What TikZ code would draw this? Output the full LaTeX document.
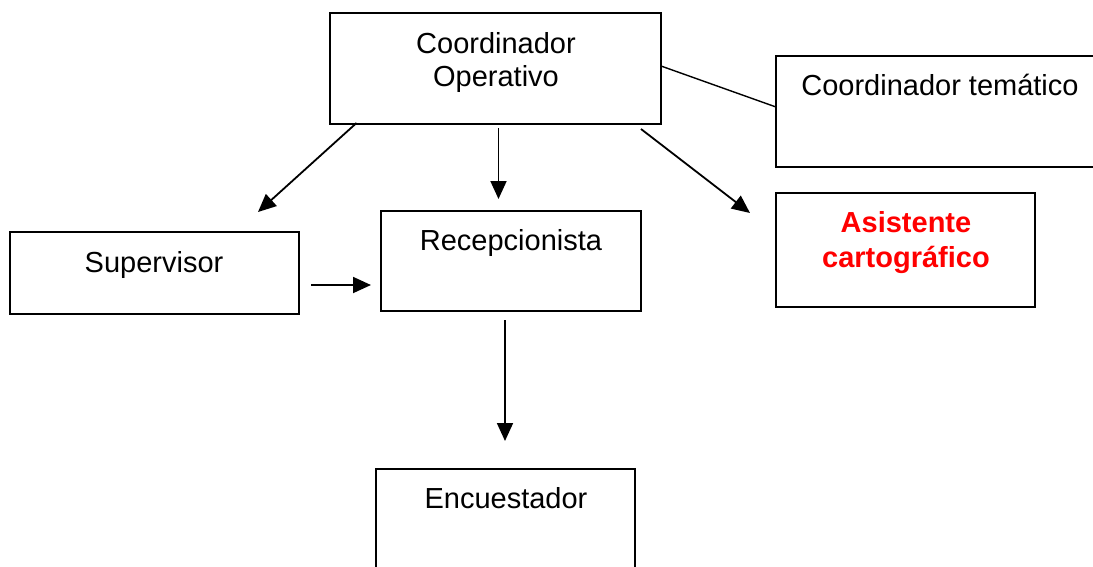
\documentclass[tikz,border=0pt]{standalone}
\usepackage{fontspec}
\setmainfont{Liberation Sans}
\usetikzlibrary{arrows.meta}
\begin{document}
\begin{tikzpicture}[x=1pt,y=-1pt,
  box/.style={draw, line width=1.6pt, rectangle, inner sep=0pt},
  lbl/.style={anchor=base, inner sep=0pt, font=\fontsize{29}{33}\selectfont},
  redlbl/.style={lbl, text=red, font=\fontsize{29}{35}\selectfont\bfseries},
  conn/.style={line width=1.8pt},
  arr/.style={conn, -{Triangle[length=18pt,width=16pt]}}]
\useasboundingbox (0,0) rectangle (1093,566);
\clip (0,0) rectangle (1093,566);
% boxes
\node[box, minimum width=331pt, minimum height=111pt] (co) at (495.5,68.5) {};
\node[box, minimum width=330pt, minimum height=111pt] (ct) at (941,111.5) {};
\node[box, minimum width=259pt, minimum height=114pt] (as) at (905.5,250) {};
\node[box, minimum width=289pt, minimum height=82pt] (sup) at (154.5,273) {};
\node[box, minimum width=260pt, minimum height=100pt] (rec) at (511,261) {};
\node[box, minimum width=259pt, minimum height=131pt] (enc) at (505.5,534.5) {};
% labels
\node[lbl] (coT1) at (496,53) {Coordinador};
\node[lbl] (coT2) at (496,86) {Operativo};
\node[lbl] (ctT) at (940,95) {Coordinador temático};
\node[redlbl] (asT1) at (906,232) {Asistente};
\node[redlbl] (asT2) at (906,267) {cartográfico};
\node[lbl] (supT) at (154,272) {Supervisor};
\node[lbl] (recT) at (511,250) {Recepcionista};
\node[lbl] (encT) at (506,508) {Encuestador};
% connector end points
\coordinate (a1s) at (356.5,123);
\coordinate (a1e) at (258,212);
\coordinate (a2s) at (498.5,128);
\coordinate (a2e) at (498.5,199);
\coordinate (a3s) at (641,129);
\coordinate (a3e) at (750,213);
\coordinate (l1s) at (661,66);
\coordinate (l1e) at (776,107);
\coordinate (a4s) at (311,285);
\coordinate (a4e) at (371,285);
\coordinate (a5s) at (505,320);
\coordinate (a5e) at (505,441);
% connectors
\draw[arr] (a1s) -- (a1e);
\draw[arr] (a2s) -- (a2e);
\draw[arr] (a3s) -- (a3e);
\draw[conn, line width=1.4pt] (l1s) -- (l1e);
\draw[arr] (a4s) -- (a4e);
\draw[arr] (a5s) -- (a5e);
\end{tikzpicture}
\end{document}
